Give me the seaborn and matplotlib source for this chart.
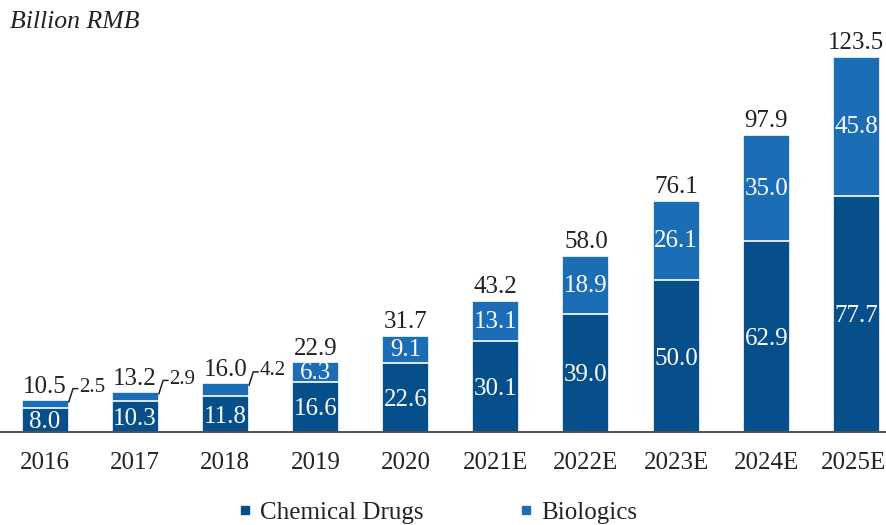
import matplotlib
matplotlib.use("Agg")
import matplotlib.pyplot as plt
import matplotlib.transforms as mtransforms
import seaborn as sns
import pandas as pd
from matplotlib.lines import Line2D

years = ["2016", "2017", "2018", "2019", "2020", "2021E", "2022E", "2023E", "2024E", "2025E"]
chemical = [8.0, 10.3, 11.8, 16.6, 22.6, 30.1, 39.0, 50.0, 62.9, 77.7]
biologics = [2.5, 2.9, 4.2, 6.3, 9.1, 13.1, 18.9, 26.1, 35.0, 45.8]
totals = [10.5, 13.2, 16.0, 22.9, 31.7, 43.2, 58.0, 76.1, 97.9, 123.5]

dark = "#064f8a"
light = "#1b6db6"

sns.set_theme(style="white")
plt.rcParams["font.family"] = ["Liberation Serif", "DejaVu Serif"]

df = pd.DataFrame({"year": years, "chemical": chemical,
                   "biologics": biologics, "total": totals})

fig = plt.figure(figsize=(8.87, 5.25), dpi=100)
ax = fig.add_axes([0.0, 0.177, 1.0, 0.77])

width = 0.52
sns.barplot(data=df, x="year", y="total", color=light, width=width,
            saturation=1, edgecolor="white", linewidth=1.2, ax=ax)
sns.barplot(data=df, x="year", y="chemical", color=dark, width=width,
            saturation=1, edgecolor="white", linewidth=1.2, ax=ax)

fs = 18
for i, (c, b, t) in enumerate(zip(chemical, biologics, totals)):
    ax.text(i, t + 0.8, f"{t:.1f}", ha="center", va="bottom",
            fontsize=fs, color="#222222")
    ax.text(i, c / 2 - 0.8, f"{c:.1f}", ha="center", va="center",
            fontsize=fs, color="white")
    if b >= 5:
        ax.text(i, c + b / 2 - 0.3, f"{b:.1f}", ha="center", va="center",
                fontsize=fs, color="white")
    else:
        # leader line from the small segment out to its label
        x0 = i + width / 2
        y0 = t - 0.8
        ax.plot([x0, x0 + 0.05, x0 + 0.11], [y0, y0 + 4.6, y0 + 4.6],
                color="#222222", lw=1.1, solid_capstyle="butt")
        ax.text(x0 + 0.12, y0 + 4.9, f"{b:.1f}", ha="left", va="center",
                fontsize=15, color="#222222")

ax.set_xlim(-0.5, 9.34)
ax.set_ylim(0, 133)
ax.set_xlabel("")
ax.set_ylabel("")
ax.set_yticks([])
ax.tick_params(axis="x", length=0, pad=14, labelsize=fs, labelcolor="#222222")
for side in ["left", "right", "top"]:
    ax.spines[side].set_visible(False)
ax.spines["bottom"].set_color("#333333")
ax.spines["bottom"].set_linewidth(1.2)

# keep the last category label inside the canvas
last = ax.get_xticklabels()[-1]
last.set_transform(last.get_transform() +
                   mtransforms.ScaledTranslation(-3 / 100, 0, fig.dpi_scale_trans))

fig.text(0.011, 0.958, "Billion RMB", fontsize=18.5, style="italic",
         color="#222222", ha="left", va="center")

handles = [
    Line2D([], [], marker="s", linestyle="none", color=dark, markersize=6),
    Line2D([], [], marker="s", linestyle="none", color=light, markersize=6),
]
fig.legend(handles, ["Chemical Drugs", "Biologics"], loc="center",
           bbox_to_anchor=(0.49, 0.024), ncol=2, frameon=False,
           fontsize=fs, handletextpad=0.1, columnspacing=3.6,
           labelcolor="#222222", handlelength=1.0)

fig.savefig("out.png", dpi=100)
